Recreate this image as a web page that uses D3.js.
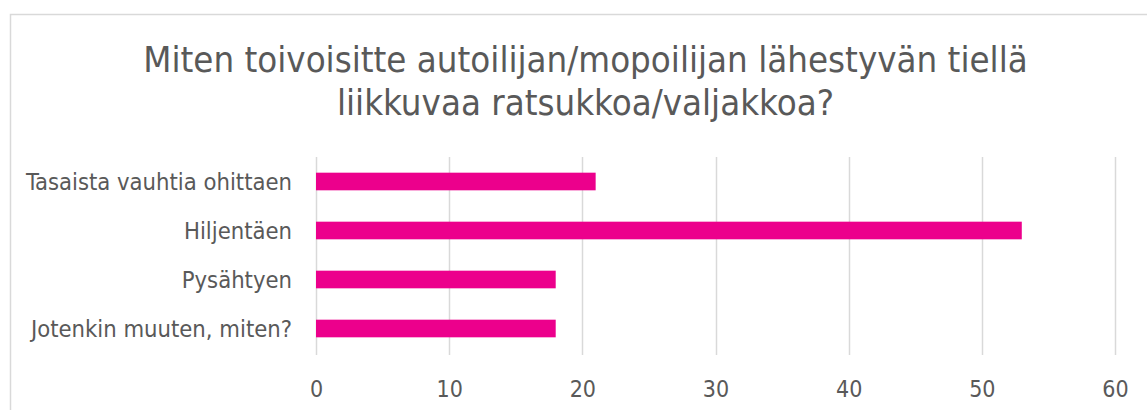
<!DOCTYPE html>
<html>
<head>
<meta charset="utf-8">
<script src="https://cdn.jsdelivr.net/npm/d3@7"></script>
<style>
  html, body { margin: 0; padding: 0; background: #fff; overflow: hidden; }
  svg text { font-family: "DejaVu Sans Condensed", "DejaVu Sans", sans-serif; font-stretch: condensed; fill: #595959; }
</style>
</head>
<body>
<svg id="chart" width="1147" height="410"></svg>
<script>
// data
var titleLines = ["Miten toivoisitte autoilijan/mopoilijan lähestyvän tiellä", "liikkuvaa ratsukkoa/valjakkoa?"];
var categories = ["Tasaista vauhtia ohittaen", "Hiljentäen", "Pysähtyen", "Jotenkin muuten, miten?"];
var values = [21, 53, 18, 18];
var tickValues = [0, 10, 20, 30, 40, 50, 60];

var svg = d3.select("#chart");

// chart frame (runs past the right and bottom edges)
svg.append("rect")
    .attr("x", 10.5).attr("y", 14.5)
    .attr("width", 1200).attr("height", 500)
    .attr("fill", "#fff")
    .attr("stroke", "#d9d9d9")
    .attr("stroke-width", 1.5);

// title
svg.append("text")
    .attr("text-anchor", "middle")
    .style("font-size", "36.3px")
    .selectAll("tspan")
    .data(titleLines)
    .enter()
    .append("tspan")
    .attr("x", 585.5)
    .attr("y", function(d, i) { return 72 + i * 43; })
    .text(function(d) { return d; });

// scales
var x = d3.scaleLinear().domain([0, 60]).range([316, 1115]);
var y = d3.scaleBand().domain(categories).range([157, 353]).paddingInner(0.64).paddingOuter(0.32);

// gridlines
svg.append("g")
    .selectAll("line")
    .data(tickValues)
    .enter()
    .append("line")
    .attr("x1", function(d) { return Math.round(x(d)) + 0.5; })
    .attr("x2", function(d) { return Math.round(x(d)) + 0.5; })
    .attr("y1", 157).attr("y2", 355)
    .attr("stroke", "#d9d9d9")
    .attr("stroke-width", 1.5);

// x axis labels
var xAxis = d3.axisBottom(x).tickValues(tickValues).tickSize(0).tickPadding(0);
var gx = svg.append("g").attr("transform", "translate(0,397)").call(xAxis);
gx.select(".domain").remove();
gx.selectAll("text")
    .attr("y", 0).attr("dy", 0)
    .style("font-size", "23px")
    .style("fill", "#595959");

// category labels
var yAxis = d3.axisLeft(y).tickSize(0).tickPadding(0);
var gy = svg.append("g").attr("transform", "translate(292,0)").call(yAxis);
gy.select(".domain").remove();
gy.selectAll("text")
    .attr("dy", "0.35em")
    .style("font-size", "23.6px")
    .style("fill", "#595959");

// bars
svg.append("g")
    .selectAll("rect")
    .data(values)
    .enter()
    .append("rect")
    .attr("x", x(0))
    .attr("y", function(d, i) { return y(categories[i]); })
    .attr("width", function(d) { return x(d) - x(0); })
    .attr("height", y.bandwidth())
    .attr("fill", "#ec008c");
</script>
</body>
</html>
